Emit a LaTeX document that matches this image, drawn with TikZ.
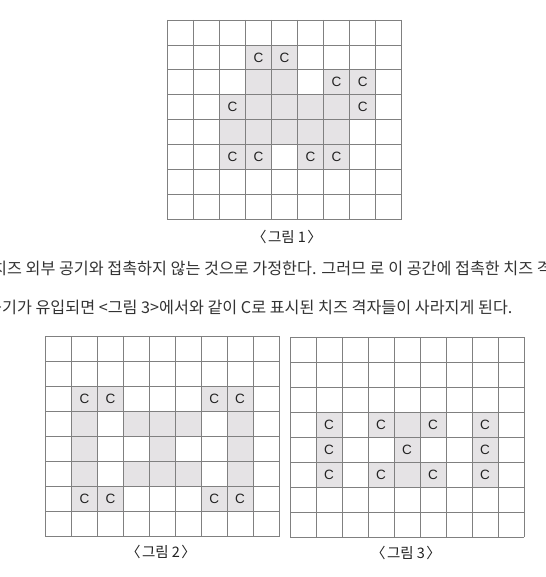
\documentclass[tikz,border=0pt]{standalone}
\usepackage{fontspec}
\setmainfont{Liberation Sans}
\newfontfamily\krfont[WordSpace=1.8]{Noto Sans CJK KR}
\newfontfamily\capfont{Noto Sans CJK KR}
\definecolor{gridline}{RGB}{128,128,128}
\definecolor{cheese}{RGB}{229,227,229}
\definecolor{bodytext}{RGB}{51,51,51}
\definecolor{captext}{RGB}{34,34,34}
\tikzset{
  gridrule/.style={draw=gridline, line width=0.8pt},
  cheesecell/.style={fill=cheese},
  cmark/.style={font=\fontsize{13.5}{13.5}\selectfont, text=captext, inner sep=0pt},
  bodyline/.style={anchor=base west, font=\krfont\fontsize{16.2}{16.2}\selectfont, text=bodytext, inner sep=0pt},
  caption/.style={font=\capfont\fontsize{14.5}{14.5}\selectfont, text=captext, inner sep=0pt}
}
% #1 name, #2 x0, #3 y0, #4 cell width, #5 cell height, #6 shaded cells (row/col), #7 C cells (row/col)
\newcommand\cheeseboard[7]{%
  \begin{scope}[shift={(#2,#3)}, x=#4pt, y=-#5pt]
    \foreach \r/\c in {#6} \fill[cheesecell] (\c,\r) rectangle ++(1,1);
    \foreach \r/\c in {#7} {
      \fill[cheesecell] (\c,\r) rectangle ++(1,1);
      \node[cmark] (#1-\r-\c) at (\c+0.5,\r+0.5) {C};
    }
    \foreach \i in {0,...,9} \draw[gridrule] (\i,0) -- (\i,8);
    \foreach \j in {0,...,8} \draw[gridrule] (0,\j) -- (9,\j);
  \end{scope}%
}
\newcommand\figlabel[1]{\char"3008\kern1.5pt 그림 #1\kern1.5pt\char"3009}
\begin{document}
\begin{tikzpicture}[x=1pt, y=-1pt]
\useasboundingbox (0,0) rectangle (545,577);
\fill[white] (0,0) rectangle (545,577);

% Figure 1
\cheeseboard{g1}{167.4}{20}{26.03}{24.92}
  {2/3,2/4,3/3,3/4,3/5,3/6,4/2,4/3,4/4,4/5,4/6}
  {1/3,1/4,2/6,2/7,3/2,3/7,5/2,5/3,5/5,5/6}
\node[caption] (cap1) at (287,237) {\figlabel{1}};

% body text
\begin{scope}
\clip (0,0) rectangle (545,577);
\node[bodyline] (line1) at (-8,274) {치즈 외부 공기와 접촉하지 않는 것으로 가정한다. 그러므 로 이 공간에 접촉한 치즈 격};
\node[bodyline] (line2) at (-13,313) {공기가 유입되면 <그림 3>에서와 같이 C로 표시된 치즈 격자들이 사라지게 된다.};
\end{scope}

% Figure 2
\cheeseboard{g2}{45.7}{336}{25.92}{25.08}
  {3/1,4/1,5/1,3/3,3/4,3/5,4/4,5/3,5/4,5/5,3/7,4/7,5/7}
  {2/1,2/2,2/6,2/7,6/1,6/2,6/6,6/7}
\node[caption] (cap2) at (161,552) {\figlabel{2}};

% Figure 3
\cheeseboard{g3}{290}{337.3}{26}{25}
  {3/4,5/4}
  {3/1,4/1,5/1,3/3,5/3,4/4,3/5,5/5,3/7,4/7,5/7}
\node[caption] (cap3) at (406,553) {\figlabel{3}};
\end{tikzpicture}
\end{document}
